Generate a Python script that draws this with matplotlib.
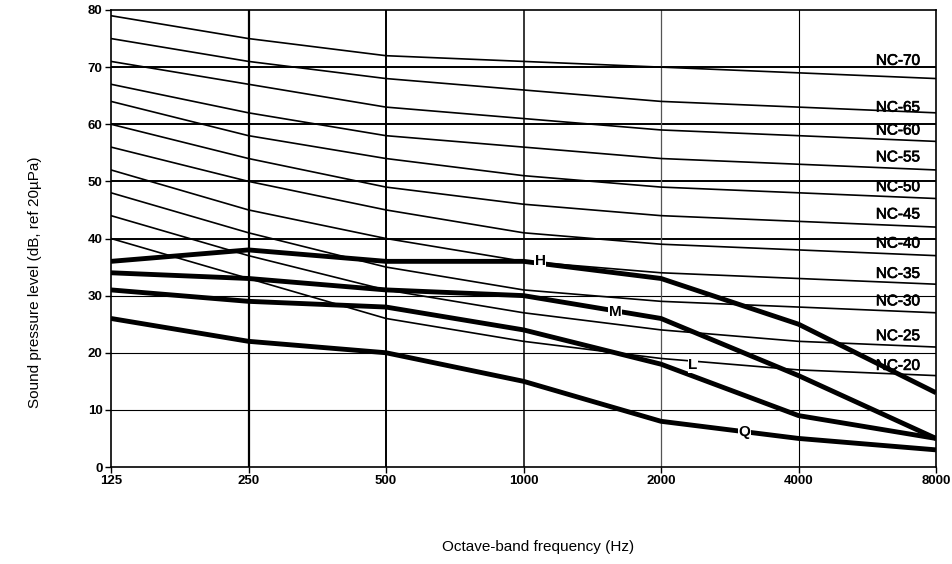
import matplotlib
matplotlib.use("Agg")
import matplotlib.pyplot as plt
import matplotlib.patheffects as pe
from matplotlib.ticker import FixedLocator, NullLocator

plt.rcParams['font.family'] = ['Liberation Sans', 'DejaVu Sans']

# octave band centre frequencies (Hz)
freqs = [125, 250, 500, 1000, 2000, 4000, 8000]

# NC curves, 125 Hz - 8000 Hz
nc_names = ['NC-70', 'NC-65', 'NC-60', 'NC-55', 'NC-50', 'NC-45',
            'NC-40', 'NC-35', 'NC-30', 'NC-25', 'NC-20']
nc70 = [79, 75, 72, 71, 70, 69, 68]
nc65 = [75, 71, 68, 66, 64, 63, 62]
nc60 = [71, 67, 63, 61, 59, 58, 57]
nc55 = [67, 62, 58, 56, 54, 53, 52]
nc50 = [64, 58, 54, 51, 49, 48, 47]
nc45 = [60, 54, 49, 46, 44, 43, 42]
nc40 = [56, 50, 45, 41, 39, 38, 37]
nc35 = [52, 45, 40, 36, 34, 33, 32]
nc30 = [48, 41, 35, 31, 29, 28, 27]
nc25 = [44, 37, 31, 27, 24, 22, 21]
nc20 = [40, 33, 26, 22, 19, 17, 16]
nc_curves = [nc70, nc65, nc60, nc55, nc50, nc45, nc40, nc35, nc30, nc25, nc20]
# where the NC labels sit (dB)
nc_label_y = [71.1, 62.9, 58.9, 54.2, 49.0, 44.2, 39.1, 33.8, 29.0, 22.9, 17.7]

# measured spectra
spec_H = [36, 38, 36, 36, 33, 25, 13]
spec_M = [34, 33, 31, 30, 26, 16, 5]
spec_L = [31, 29, 28, 24, 18, 9, 5]
spec_Q = [26, 22, 20, 15, 8, 5, 3]

fig = plt.figure(figsize=(9.53, 5.64), dpi=100)
ax = fig.add_axes([111 / 953, 1 - 467 / 564, 825 / 953, 457 / 564])
ax.set_xscale('log', base=2)
ax.set_xlim(125, 8000)
ax.set_ylim(0, 80)

# grid
for y in [10, 20, 30]:
    ax.axhline(y, color='black', lw=0.8, zorder=1)
for y in [40, 50, 60, 70]:
    ax.axhline(y, color='black', lw=1.4, zorder=1)
ax.axvline(250, color='black', lw=1.6, zorder=1)
ax.axvline(500, color='black', lw=1.4, zorder=1)
ax.axvline(1000, color='black', lw=1.1, zorder=1)
ax.axvline(2000, color='#555555', lw=0.9, zorder=1)
ax.axvline(4000, color='black', lw=0.8, zorder=1)

# NC curves
heavier = [pe.withStroke(linewidth=0.5, foreground='black')]
for curve, name, ly in zip(nc_curves, nc_names, nc_label_y):
    ax.plot(freqs, curve, color='black', lw=1.2, zorder=2)
    ax.text(6600, ly, name, ha='center', va='center', fontsize=11, zorder=3,
            path_effects=heavier)

# spectra
for spec in [spec_H, spec_M, spec_L, spec_Q]:
    ax.plot(freqs, spec, color='black', lw=3.5, solid_capstyle='butt', zorder=4)

box = dict(facecolor='white', edgecolor='none', pad=0.5)
ax.text(1087, 36, 'H', ha='center', va='center', fontsize=11, fontweight='bold', bbox=box, zorder=5)
ax.text(1586, 27.1, 'M', ha='center', va='center', fontsize=11, fontweight='bold', bbox=box, zorder=5)
ax.text(2350, 17.9, 'L', ha='center', va='center', fontsize=11, fontweight='bold', bbox=box, zorder=5)
ax.text(3050, 6.1, 'Q', ha='center', va='center', fontsize=11, fontweight='bold', bbox=box, zorder=5)

# axes / ticks
ax.xaxis.set_major_locator(FixedLocator(freqs))
ax.xaxis.set_minor_locator(NullLocator())
ax.set_xticklabels([str(f) for f in freqs])
ax.set_yticks(range(0, 81, 10))
ax.tick_params(direction='out', length=4, width=1, pad=2,
               labelsize=9.5, color='black')
for lab in ax.get_xticklabels() + ax.get_yticklabels():
    lab.set_fontweight('bold')
for s in ax.spines.values():
    s.set_linewidth(1.2)

fig.text(35 / 953, 1 - 282 / 564, 'Sound pressure level (dB, ref 20\u00b5Pa)',
         rotation=90, ha='center', va='center', fontsize=11)
fig.text(538 / 953, 1 - 547 / 564, 'Octave-band frequency (Hz)',
         ha='center', va='center', fontsize=11)

fig.savefig('out.png', dpi=100)
